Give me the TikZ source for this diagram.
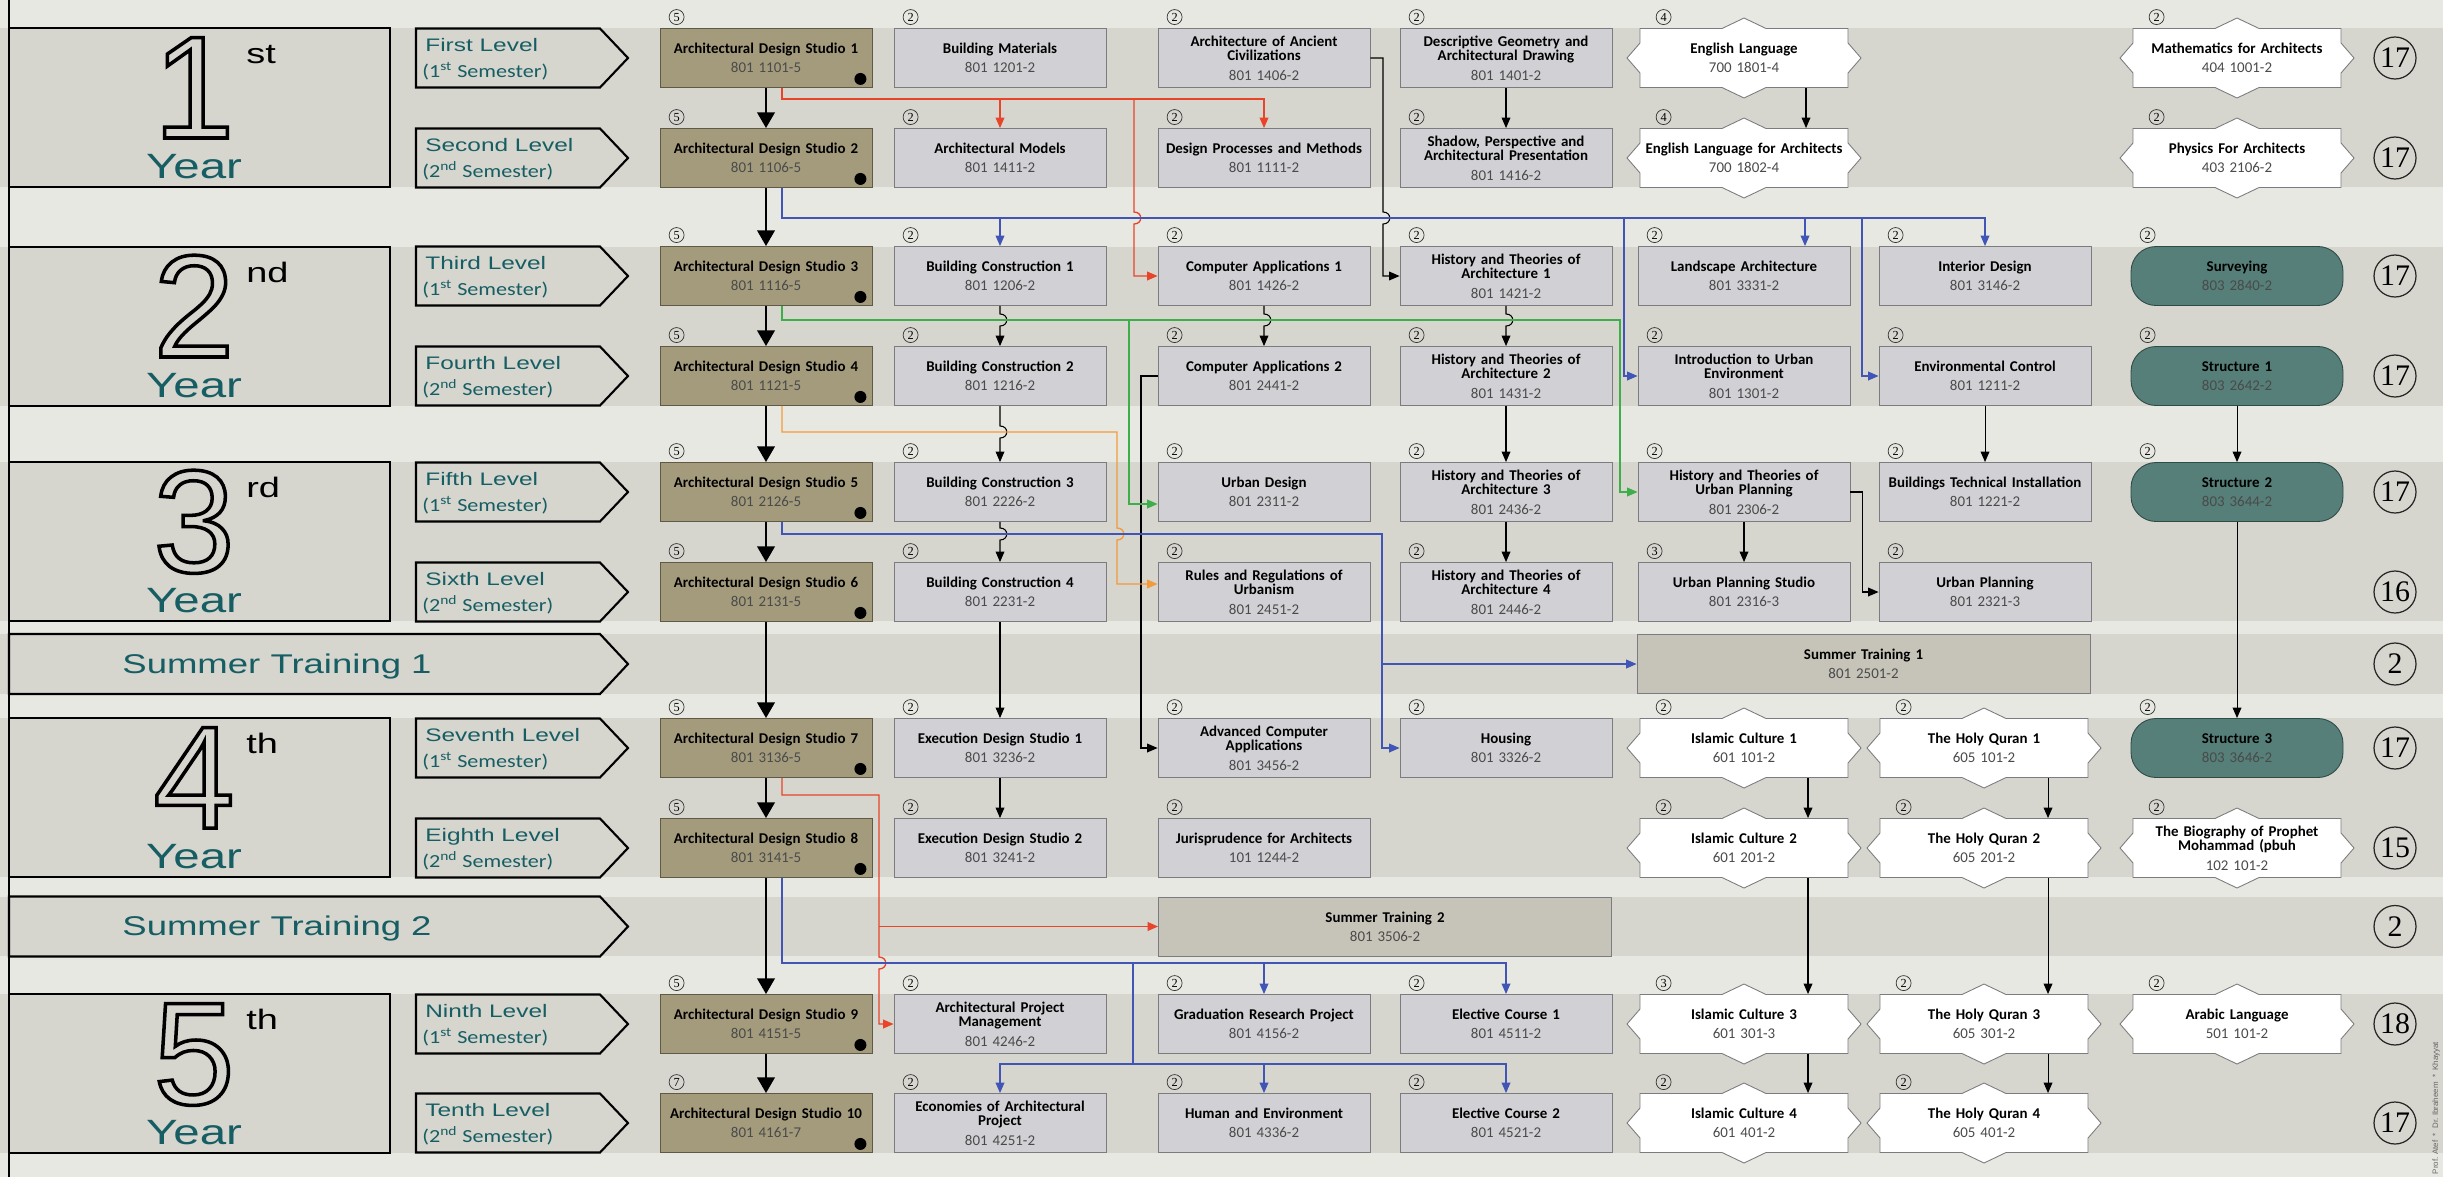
\documentclass[tikz,border=0pt]{standalone}
\usepackage{fontspec}
\setmainfont{Carlito}
\newfontfamily\lblfont[FakeStretch=1.35]{Liberation Sans}
\newfontfamily\semfont[FakeStretch=1.2]{Carlito}
\newfontfamily\numfont{Liberation Sans}
\newfontfamily\crfont{Liberation Serif}
\usetikzlibrary{arrows.meta,calc}

\definecolor{bgcol}{HTML}{E8E8E2}
\definecolor{bandcol}{HTML}{D6D5CE}
\definecolor{yearcol}{HTML}{165E63}
\definecolor{studiofill}{HTML}{A39B7C}
\definecolor{studioline}{HTML}{5F5A45}
\definecolor{grayfill}{HTML}{D1D1D5}
\definecolor{grayline}{HTML}{7C7C80}
\definecolor{greenfill}{HTML}{557F78}
\definecolor{greenline}{HTML}{2F4B46}
\definecolor{summerfill}{HTML}{C6C4B8}
\definecolor{codegray}{HTML}{4A4A4A}
\definecolor{redln}{HTML}{E8442A}
\definecolor{blueln}{HTML}{4055B5}
\definecolor{greenln}{HTML}{3DAE49}
\definecolor{orangeln}{HTML}{F39A3C}

\newcommand\crs[2]{{\bfseries #1\par}\vspace{2.6pt}{\color{codegray}#2\par}}
\newcommand\outl[1]{\special{pdf:literal direct 1 Tr 2 w}#1\special{pdf:literal direct 0 Tr}}

\tikzset{
  course/.style={draw=grayline, fill=grayfill, line width=0.5pt, minimum width=4.24cm,
    minimum height=1.18cm, inner sep=0pt, text width=4.2cm, align=center,
    font=\fontsize{8.5}{8.3}\selectfont},
  studio/.style={course, draw=studioline, fill=studiofill},
  greenbox/.style={course, draw=greenline, fill=greenfill, rounded corners=0.5cm},
  summerbox/.style={course, fill=summerfill, minimum width=9.06cm, text width=8.9cm},
  hexbox/.style={course, draw=none, fill=none, minimum width=4.16cm, text width=4.12cm},
  hexshape/.style={draw=grayline, fill=white, line width=0.5pt},
  credit/.style={circle, draw=black!80, line width=0.4pt, inner sep=0pt, minimum size=0.3cm,
    font=\crfont\fontsize{7}{7}\selectfont},
  total/.style={circle, draw=black!85, line width=0.7pt, inner sep=0pt, minimum size=0.84cm,
    font=\crfont\fontsize{17}{17}\selectfont},
  yearbox/.style={draw=black, fill=bandcol, line width=1.2pt},
  levelbox/.style={draw=black, fill=bandcol, line width=1.2pt, line join=miter},
  bignum/.style={anchor=base, inner sep=0pt, text depth=0pt, font=\numfont\fontsize{83}{83}\selectfont},
  supnum/.style={anchor=base west, inner sep=0pt, font=\lblfont\fontsize{16}{16}\selectfont},
  yeartxt/.style={anchor=base, inner sep=0pt, text=yearcol, font=\lblfont\fontsize{20}{20}\selectfont},
  lvltxt/.style={anchor=base west, inner sep=0pt, text=yearcol, font=\lblfont\fontsize{10.3}{10.3}\selectfont},
  semtxt/.style={anchor=base west, inner sep=0pt, text=yearcol, font=\semfont\fontsize{10.5}{10.5}\selectfont},
  sumtxt/.style={anchor=base, inner sep=0pt, text=yearcol, font=\lblfont\fontsize{15.4}{15.4}\selectfont},
  stdarrow/.style={line width=1.4pt, -{Triangle[length=9pt,width=10pt]}},
  arr/.style={line width=0.6pt, -{Triangle[length=6pt,width=5pt]}},
  redarr/.style={arr, draw=redln, line width=0.75pt},
  bluearr/.style={arr, draw=blueln, line width=0.75pt},
  greenarr/.style={arr, draw=greenln, line width=0.75pt},
  orangearr/.style={arr, draw=orangeln, line width=0.75pt}
}

\begin{document}
\begin{tikzpicture}[x=0.02cm,y=-0.02cm]
 \useasboundingbox (0,0) rectangle (2443,1177);
 \fill[bgcol] (0,0) rectangle (2443,1177);
 %bands
 \foreach \a/\b in {28/187, 247/406, 462/621, 634/694, 718/877, 897/956, 994/1153}
    \fill[bandcol] (0,\a) rectangle (2443,\b);
 \draw[line width=1.2pt] (9,0) -- (9,1177);

 %year boxes
 \foreach \tp/\n/\s [count=\i] in {28/1/st, 247/2/nd, 462/3/rd, 718/4/th, 994/5/th}{
    \draw[yearbox] (9,\tp) rectangle (390,\tp+159);
    \node[bignum] (num\i) at (194,\tp+110) {\outl{\n}};
    \node[supnum] (sup\i) at (246,\tp+35) {\s};
    \node[yeartxt] (year\i) at (194,\tp+150) {Year};
 }
 %level arrows
 \foreach \y/\lv/\sm [count=\i] in {58/First/1\textsuperscript{st}, 158/Second/2\textsuperscript{nd},
    276/Third/1\textsuperscript{st}, 376/Fourth/2\textsuperscript{nd}, 492/Fifth/1\textsuperscript{st},
    592/Sixth/2\textsuperscript{nd}, 748/Seventh/1\textsuperscript{st}, 848/Eighth/2\textsuperscript{nd},
    1024/Ninth/1\textsuperscript{st}, 1123/Tenth/2\textsuperscript{nd}}{
    \draw[levelbox] (416,\y-29.5) -- (600,\y-29.5) -- (628,\y) -- (600,\y+29.5) -- (416,\y+29.5) -- cycle;
    \node[lvltxt] (lvl\i) at (425,\y-6.5) {\lv{} Level};
    \node[semtxt] (sem\i) at (422,\y+19.5) {(\sm{} Semester)};
 }
 %summer arrows
 \foreach \y/\n [count=\i] in {664/1, 926.5/2}{
    \draw[levelbox] (9,\y-30) -- (600,\y-30) -- (628,\y) -- (600,\y+30) -- (9,\y+30) -- cycle;
    \node[sumtxt] (sum\i) at (277,\y+9) {Summer Training \n};
 }

 %hexagon outlines
 \foreach \x/\y in {1744/58, 2237/58, 1744/158, 2237/158, 1744/748, 1984/748, 1744/848, 1984/848,
    2237/848, 1744/1024, 1984/1024, 2237/1024, 1744/1123, 1984/1123}
    \draw[hexshape] (\x-104,\y-29.5) -- (\x-22,\y-29.5) -- (\x,\y-40) -- (\x+22,\y-29.5) -- (\x+104,\y-29.5)
       -- (\x+104,\y-15) -- (\x+117,\y) -- (\x+104,\y+15) -- (\x+104,\y+29.5) -- (\x+22,\y+29.5)
       -- (\x,\y+40) -- (\x-22,\y+29.5) -- (\x-104,\y+29.5) -- (\x-104,\y+15) -- (\x-117,\y)
       -- (\x-104,\y-15) -- cycle;

 %first level
 \node[studio] (ads1) at (766,58) {\crs{Architectural Design Studio 1}{801 1101-5}};
 \node[course] (bmat) at (1000,58) {\crs{Building Materials}{801 1201-2}};
 \node[course] (anc) at (1264,58) {\crs{Architecture of Ancient\\Civilizations}{801 1406-2}};
 \node[course] (dgeo) at (1506,58) {\crs{Descriptive Geometry and\\Architectural Drawing}{801 1401-2}};
 \node[hexbox] (eng1) at (1744,58) {\crs{English Language}{700 1801-4}};
 \node[hexbox] (math) at (2237,58) {\crs{Mathematics for Architects}{404 1001-2}};
 %second level
 \node[studio] (ads2) at (766,158) {\crs{Architectural Design Studio 2}{801 1106-5}};
 \node[course] (amod) at (1000,158) {\crs{Architectural Models}{801 1411-2}};
 \node[course] (dproc) at (1264,158) {\crs{Design Processes and Methods}{801 1111-2}};
 \node[course] (shad) at (1506,158) {\crs{Shadow, Perspective and\\Architectural Presentation}{801 1416-2}};
 \node[hexbox] (eng2) at (1744,158) {\crs{English Language for Architects}{700 1802-4}};
 \node[hexbox] (phys) at (2237,158) {\crs{Physics For Architects}{403 2106-2}};
 %third level
 \node[studio] (ads3) at (766,276) {\crs{Architectural Design Studio 3}{801 1116-5}};
 \node[course] (bc1) at (1000,276) {\crs{Building Construction 1}{801 1206-2}};
 \node[course] (ca1) at (1264,276) {\crs{Computer Applications 1}{801 1426-2}};
 \node[course] (ht1) at (1506,276) {\crs{History and Theories of\\Architecture 1}{801 1421-2}};
 \node[course] (land) at (1744,276) {\crs{Landscape Architecture}{801 3331-2}};
 \node[course] (intd) at (1985,276) {\crs{Interior Design}{801 3146-2}};
 \node[greenbox] (surv) at (2237,276) {\crs{Surveying}{803 2840-2}};
 %fourth level
 \node[studio] (ads4) at (766,376) {\crs{Architectural Design Studio 4}{801 1121-5}};
 \node[course] (bc2) at (1000,376) {\crs{Building Construction 2}{801 1216-2}};
 \node[course] (ca2) at (1264,376) {\crs{Computer Applications 2}{801 2441-2}};
 \node[course] (ht2) at (1506,376) {\crs{History and Theories of\\Architecture 2}{801 1431-2}};
 \node[course] (iue) at (1744,376) {\crs{Introduction to Urban\\Environment}{801 1301-2}};
 \node[course] (envc) at (1985,376) {\crs{Environmental Control}{801 1211-2}};
 \node[greenbox] (str1) at (2237,376) {\crs{Structure 1}{803 2642-2}};
 %fifth level
 \node[studio] (ads5) at (766,492) {\crs{Architectural Design Studio 5}{801 2126-5}};
 \node[course] (bc3) at (1000,492) {\crs{Building Construction 3}{801 2226-2}};
 \node[course] (urbd) at (1264,492) {\crs{Urban Design}{801 2311-2}};
 \node[course] (ht3) at (1506,492) {\crs{History and Theories of\\Architecture 3}{801 2436-2}};
 \node[course] (htup) at (1744,492) {\crs{History and Theories of\\Urban Planning}{801 2306-2}};
 \node[course] (bti) at (1985,492) {\crs{Buildings Technical Installation}{801 1221-2}};
 \node[greenbox] (str2) at (2237,492) {\crs{Structure 2}{803 3644-2}};
 %sixth level
 \node[studio] (ads6) at (766,592) {\crs{Architectural Design Studio 6}{801 2131-5}};
 \node[course] (bc4) at (1000,592) {\crs{Building Construction 4}{801 2231-2}};
 \node[course] (rules) at (1264,592) {\crs{Rules and Regulations of\\Urbanism}{801 2451-2}};
 \node[course] (ht4) at (1506,592) {\crs{History and Theories of\\Architecture 4}{801 2446-2}};
 \node[course] (ups) at (1744,592) {\crs{Urban Planning Studio}{801 2316-3}};
 \node[course] (upl) at (1985,592) {\crs{Urban Planning}{801 2321-3}};
 \node[summerbox] (st1) at (1863.5,664) {\crs{Summer Training 1}{801 2501-2}};
 %seventh level
 \node[studio] (ads7) at (766,748) {\crs{Architectural Design Studio 7}{801 3136-5}};
 \node[course] (eds1) at (1000,748) {\crs{Execution Design Studio 1}{801 3236-2}};
 \node[course] (aca) at (1264,748) {\crs{Advanced Computer\\Applications}{801 3456-2}};
 \node[course] (hous) at (1506,748) {\crs{Housing}{801 3326-2}};
 \node[hexbox] (ic1) at (1744,748) {\crs{Islamic Culture 1}{601 101-2}};
 \node[hexbox] (hq1) at (1984,748) {\crs{The Holy Quran 1}{605 101-2}};
 \node[greenbox] (str3) at (2237,748) {\crs{Structure 3}{803 3646-2}};
 %eighth level
 \node[studio] (ads8) at (766,848) {\crs{Architectural Design Studio 8}{801 3141-5}};
 \node[course] (eds2) at (1000,848) {\crs{Execution Design Studio 2}{801 3241-2}};
 \node[course] (juris) at (1264,848) {\crs{Jurisprudence for Architects}{101 1244-2}};
 \node[hexbox] (ic2) at (1744,848) {\crs{Islamic Culture 2}{601 201-2}};
 \node[hexbox] (hq2) at (1984,848) {\crs{The Holy Quran 2}{605 201-2}};
 \node[hexbox] (bio) at (2237,848) {\crs{The Biography of Prophet\\Mohammad (pbuh}{102 101-2}};
 \node[summerbox] (st2) at (1385,926.5) {\crs{Summer Training 2}{801 3506-2}};
 %ninth level
 \node[studio] (ads9) at (766,1024) {\crs{Architectural Design Studio 9}{801 4151-5}};
 \node[course] (apm) at (1000,1024) {\crs{Architectural Project\\Management}{801 4246-2}};
 \node[course] (grp) at (1264,1024) {\crs{Graduation Research Project}{801 4156-2}};
 \node[course] (ec1) at (1506,1024) {\crs{Elective Course 1}{801 4511-2}};
 \node[hexbox] (ic3) at (1744,1024) {\crs{Islamic Culture 3}{601 301-3}};
 \node[hexbox] (hq3) at (1984,1024) {\crs{The Holy Quran 3}{605 301-2}};
 \node[hexbox] (arab) at (2237,1024) {\crs{Arabic Language}{501 101-2}};
 %tenth level
 \node[studio] (ads10) at (766,1123) {\crs{Architectural Design Studio 10}{801 4161-7}};
 \node[course] (eap) at (1000,1123) {\crs{Economies of Architectural\\Project}{801 4251-2}};
 \node[course] (hum) at (1264,1123) {\crs{Human and Environment}{801 4336-2}};
 \node[course] (ec2) at (1506,1123) {\crs{Elective Course 2}{801 4521-2}};
 \node[hexbox] (ic4) at (1744,1123) {\crs{Islamic Culture 4}{601 401-2}};
 \node[hexbox] (hq4) at (1984,1123) {\crs{The Holy Quran 4}{605 401-2}};

 %credits
 \foreach \n/\c in {ads1/5, bmat/2, anc/2, dgeo/2, ads2/5, amod/2, dproc/2, shad/2,
    ads3/5, bc1/2, ca1/2, ht1/2, land/2, intd/2, surv/2, ads4/5, bc2/2, ca2/2,
    ht2/2, iue/2, envc/2, str1/2, ads5/5, bc3/2, urbd/2, ht3/2, htup/2, bti/2, str2/2, ads6/5,
    bc4/2, rules/2, ht4/2, ups/3, upl/2, ads7/5, eds1/2, aca/2, hous/2, str3/2,
    ads8/5, eds2/2, juris/2, ads9/5, apm/2, grp/2, ec1/2, ads10/7, eap/2, hum/2, ec2/2}
    \node[credit] (cr-\n) at ($(\n.north west)+(17,-11)$) {\c};
 \foreach \n/\c in {eng1/4, math/2, eng2/4, phys/2, ic1/2, hq1/2, ic2/2, hq2/2, bio/2, ic3/3,
    hq3/2, arab/2, ic4/2, hq4/2}
    \node[credit] (cr-\n) at ($(\n.north west)+(24,-11)$) {\c};
 %black dots
 \foreach \n in {ads1,ads2,ads3,ads4,ads5,ads6,ads7,ads8,ads9,ads10}
    \fill ($(\n.south east)+(-12,-9)$) circle[radius=0.12cm];
 %totals
 \foreach \y/\v [count=\i] in {58/17, 158/17, 276/17, 376/17, 492/17, 592/16, 664/2, 748/17,
    848/15, 926.5/2, 1024/18, 1123/17}
    \node[total] (tot\i) at (2395,\y) {\v};
 \node[rotate=90, inner sep=0pt, text=black!60, font=\numfont\fontsize{4.5}{4.5}\selectfont] (auth)
    at (2436,1108) {Prof. Atef \ * \ Dr. Ibraheem \ * \ Khayyat};

 %studio chain
 \foreach \a/\b in {ads1/ads2, ads2/ads3, ads3/ads4, ads4/ads5, ads5/ads6, ads6/ads7, ads7/ads8,
    ads8/ads9, ads9/ads10}
    \draw[stdarrow] (\a) -- (\b);

 %black prerequisites
 \draw[arr] (dgeo) -- (shad);
 \draw[arr] ($(eng1.south)+(62,0)$) -- ($(eng2.north)+(62,0)$);
 \draw[arr] (bc1.south) -- (1000,314) .. controls (1009,314) and (1009,326) .. (1000,326) -- (bc2.north);
 \draw[arr] (ca1.south) -- (1264,314) .. controls (1273,314) and (1273,326) .. (1264,326) -- (ca2.north);
 \draw[arr] (ht1.south) -- (1506,314) .. controls (1515,314) and (1515,326) .. (1506,326) -- (ht2.north);
 \draw[arr] (bc2.south) -- (1000,426) .. controls (1009,426) and (1009,438) .. (1000,438) -- (bc3.north);
 \draw[arr] (bc3.south) -- (1000,528) .. controls (1009,528) and (1009,540) .. (1000,540) -- (bc4.north);
 \draw[arr] (bc4) -- (eds1);
 \draw[arr] (eds1) -- (eds2);
 \draw[arr] (ht2) -- (ht3);
 \draw[arr] (ht3) -- (ht4);
 \draw[arr] (htup) -- (ups);
 \draw[arr] (envc) -- (bti);
 \draw[arr] (str1) -- (str2);
 \draw[arr] (str2) -- (str3);
 \foreach \a/\b in {ic1/ic2, ic2/ic3, ic3/ic4, hq1/hq2, hq2/hq3, hq3/hq4}
    \draw[arr] ($(\a.south)+(64,0)$) -- ($(\b.north)+(64,0)$);
 \draw[arr] (anc.east) -- (1383,58) -- (1383,212) .. controls (1392,212) and (1392,224) .. (1383,224) |- (ht1.west);
 \draw[arr] (ca2.west) -- (1141,376) |- (aca.west);
 \draw[arr] (htup.east) -- (1862,492) |- (upl.west);

 %red from studio 1
 \draw[redarr] ($(ads1.south)+(16,0)$) |- (1264,99) -- (dproc.north);
 \draw[redarr] (1000,99) -- (amod.north);
 \draw[redarr] (1134,99) -- (1134,212) .. controls (1143,212) and (1143,224) .. (1134,224) |- (ca1.west);
 %blue from studio 2
 \draw[bluearr] ($(ads2.south)+(16,0)$) |- (1985,218) -- (intd.north);
 \draw[bluearr] (1000,218) -- (bc1.north);
 \draw[bluearr] (1805,218) -- ($(land.north)+(61,0)$);
 \draw[bluearr] (1624,218) |- (iue.west);
 \draw[bluearr] (1862,218) |- (envc.west);
 %green from studio 3
 \draw[greenarr] ($(ads3.south)+(16,0)$) |- (1620,320) |- (htup.west);
 \draw[greenarr] (1129,320) |- ($(urbd.west)+(0,12)$);
 %orange from studio 4
 \draw[orangearr] ($(ads4.south)+(16,0)$) |- (1117,432) -- (1117,528) .. controls (1126,528) and (1126,540) .. (1117,540) |- ($(rules.west)+(0,-8)$);
 %blue from studio 5
 \draw[bluearr] ($(ads5.south)+(16,0)$) |- (1382,534) |- (hous.west);
 \draw[bluearr] (1382,664) -- (st1.west);
 %red from studio 7
 \draw[redarr] ($(ads7.south)+(16,0)$) |- (879,795) -- (879,957) .. controls (888,957) and (888,969) .. (879,969) |- (apm.west);
 \draw[redarr] (879,926.5) -- (st2.west);
 %blue from studio 8
 \draw[bluearr] ($(ads8.south)+(16,0)$) |- (1506,963) -- (ec1.north);
 \draw[bluearr] (1264,963) -- (grp.north);
 \draw[blueln, line width=0.75pt] (1133,963) -- (1133,1064);
 \draw[bluearr] (1133,1064) -| (eap.north);
 \draw[bluearr] (1133,1064) -| (ec2.north);
 \draw[bluearr] (1264,1064) -- (hum.north);
\end{tikzpicture}
\end{document}
